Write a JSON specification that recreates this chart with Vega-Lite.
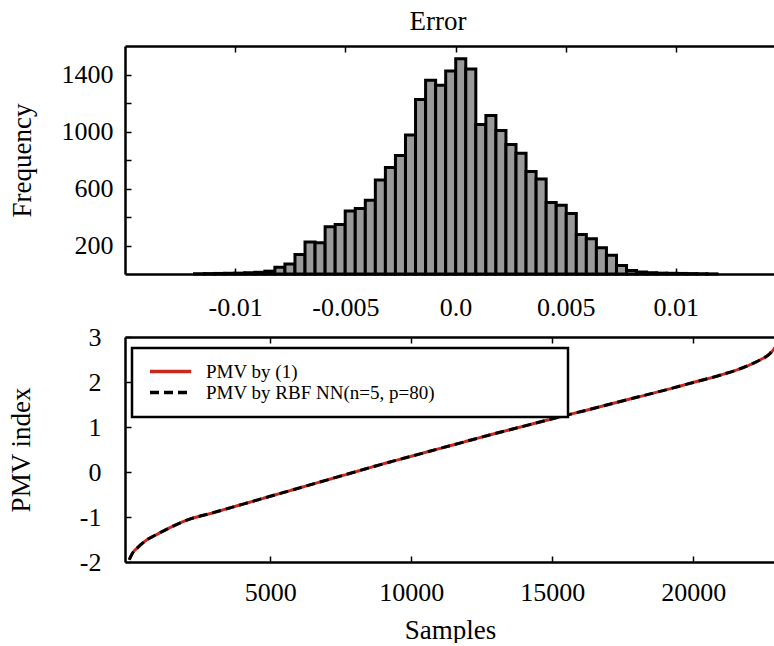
{
  "$schema": "https://vega.github.io/schema/vega-lite/v6.json",
  "padding": {"left": 7, "top": 8, "right": 0, "bottom": 0},
  "background": "white",
  "spacing": 4,
  "resolve": {"legend": {"color": "independent", "strokeDash": "independent"}},
  "config": {
    "view": {"stroke": null},
    "font": "Liberation Serif",
    "axis": {
      "grid": false, "domainColor": "black", "domainWidth": 2.5,
      "tickColor": "black", "tickWidth": 1.5, "tickSize": -6,
      "labelFont": "Liberation Serif", "labelFontSize": 26, "labelColor": "black",
      "titleFont": "Liberation Serif", "titleFontSize": 27, "titleFontWeight": "normal", "titleColor": "black",
      "labelOverlap": false, "labelFlush": false
    }
  },
  "vconcat": [
    {
      "title": {"text": "Error", "font": "Liberation Serif", "fontSize": 27, "fontWeight": "normal", "color": "black", "dx": -12, "offset": 9},
      "width": 650,
      "height": 228,
      "data": {"values": [
        {"lo": -0.011846, "hi": -0.01139, "n": 2},
        {"lo": -0.01139, "hi": -0.010934, "n": 3},
        {"lo": -0.010934, "hi": -0.010478, "n": 4},
        {"lo": -0.010478, "hi": -0.010022, "n": 5},
        {"lo": -0.010022, "hi": -0.009566, "n": 6},
        {"lo": -0.009566, "hi": -0.00911, "n": 8},
        {"lo": -0.00911, "hi": -0.008654, "n": 12},
        {"lo": -0.008654, "hi": -0.008198, "n": 20},
        {"lo": -0.008198, "hi": -0.007742, "n": 47},
        {"lo": -0.007742, "hi": -0.007286, "n": 71},
        {"lo": -0.007286, "hi": -0.00683, "n": 136},
        {"lo": -0.00683, "hi": -0.006374, "n": 224},
        {"lo": -0.006374, "hi": -0.005918, "n": 219},
        {"lo": -0.005918, "hi": -0.005462, "n": 332},
        {"lo": -0.005462, "hi": -0.005006, "n": 348},
        {"lo": -0.005006, "hi": -0.00455, "n": 442},
        {"lo": -0.00455, "hi": -0.004094, "n": 459},
        {"lo": -0.004094, "hi": -0.003638, "n": 518},
        {"lo": -0.003638, "hi": -0.003182, "n": 659},
        {"lo": -0.003182, "hi": -0.002726, "n": 748},
        {"lo": -0.002726, "hi": -0.00227, "n": 831},
        {"lo": -0.00227, "hi": -0.001814, "n": 976},
        {"lo": -0.001814, "hi": -0.001358, "n": 1224},
        {"lo": -0.001358, "hi": -0.000902, "n": 1360},
        {"lo": -0.000902, "hi": -0.000446, "n": 1325},
        {"lo": -0.000446, "hi": 0.00001, "n": 1424},
        {"lo": 0.00001, "hi": 0.000466, "n": 1511},
        {"lo": 0.000466, "hi": 0.000922, "n": 1438},
        {"lo": 0.000922, "hi": 0.001378, "n": 1049},
        {"lo": 0.001378, "hi": 0.001834, "n": 1113},
        {"lo": 0.001834, "hi": 0.00229, "n": 1007},
        {"lo": 0.00229, "hi": 0.002746, "n": 908},
        {"lo": 0.002746, "hi": 0.003202, "n": 847},
        {"lo": 0.003202, "hi": 0.003658, "n": 720},
        {"lo": 0.003658, "hi": 0.004114, "n": 666},
        {"lo": 0.004114, "hi": 0.00457, "n": 501},
        {"lo": 0.00457, "hi": 0.005026, "n": 482},
        {"lo": 0.005026, "hi": 0.005482, "n": 424},
        {"lo": 0.005482, "hi": 0.005938, "n": 278},
        {"lo": 0.005938, "hi": 0.006394, "n": 247},
        {"lo": 0.006394, "hi": 0.00685, "n": 184},
        {"lo": 0.00685, "hi": 0.007306, "n": 132},
        {"lo": 0.007306, "hi": 0.007762, "n": 59},
        {"lo": 0.007762, "hi": 0.008218, "n": 25},
        {"lo": 0.008218, "hi": 0.008674, "n": 14},
        {"lo": 0.008674, "hi": 0.00913, "n": 9},
        {"lo": 0.00913, "hi": 0.009586, "n": 6},
        {"lo": 0.009586, "hi": 0.010042, "n": 5},
        {"lo": 0.010042, "hi": 0.010498, "n": 4},
        {"lo": 0.010498, "hi": 0.010954, "n": 3},
        {"lo": 0.010954, "hi": 0.01141, "n": 2},
        {"lo": 0.01141, "hi": 0.011866, "n": 1}
      ]},
      "layer": [
        {
          "mark": {"type": "bar", "fill": "#9a9a9a", "stroke": "black", "strokeWidth": 3},
          "encoding": {
            "x": {"field": "lo", "type": "quantitative",
              "scale": {"domain": [-0.015, 0.0145], "nice": false, "zero": false},
              "axis": {"values": [-0.01, -0.005, 0, 0.005, 0.01], "labelExpr": "datum.value == 0 ? '0.0' : '' + datum.value", "labelPadding": 26, "title": null, "labelFont": "Liberation Serif"}},
            "x2": {"field": "hi"},
            "y": {"field": "n", "type": "quantitative",
              "scale": {"domain": [0, 1600], "nice": false},
              "axis": {"values": [200, 400, 600, 800, 1000, 1200, 1400], "labelExpr": "(datum.value - 200) % 400 == 0 ? '' + datum.value : ''", "labelPadding": 18, "title": "Frequency", "titlePadding": 25, "labelFont": "Liberation Serif", "titleFont": "Liberation Serif"}},
            "y2": {"datum": 0}
          }
        },
        {
          "mark": {"type": "rule", "opacity": 0},
          "encoding": {
            "x": {"field": "lo", "type": "quantitative",
              "axis": {"orient": "top", "values": [-0.01, -0.005, 0, 0.005, 0.01], "labels": false, "title": null}}
          }
        }
      ],
      "resolve": {"axis": {"x": "independent"}}
    },
    {
      "width": 650,
      "height": 225,
      "data": {"values": [
        {"sample": 0, "PMV by (1)": -1.95, "PMV by RBF NN(n=5, p=80)": -1.95},
        {"sample": 100, "PMV by (1)": -1.82, "PMV by RBF NN(n=5, p=80)": -1.82},
        {"sample": 300, "PMV by (1)": -1.68, "PMV by RBF NN(n=5, p=80)": -1.68},
        {"sample": 600, "PMV by (1)": -1.52, "PMV by RBF NN(n=5, p=80)": -1.52},
        {"sample": 1000, "PMV by (1)": -1.38, "PMV by RBF NN(n=5, p=80)": -1.38},
        {"sample": 1500, "PMV by (1)": -1.22, "PMV by RBF NN(n=5, p=80)": -1.22},
        {"sample": 2000, "PMV by (1)": -1.08, "PMV by RBF NN(n=5, p=80)": -1.08},
        {"sample": 3000, "PMV by (1)": -0.9, "PMV by RBF NN(n=5, p=80)": -0.9},
        {"sample": 4000, "PMV by (1)": -0.72, "PMV by RBF NN(n=5, p=80)": -0.72},
        {"sample": 5000, "PMV by (1)": -0.54, "PMV by RBF NN(n=5, p=80)": -0.54},
        {"sample": 6000, "PMV by (1)": -0.36, "PMV by RBF NN(n=5, p=80)": -0.36},
        {"sample": 7000, "PMV by (1)": -0.18, "PMV by RBF NN(n=5, p=80)": -0.18},
        {"sample": 8000, "PMV by (1)": 0.0, "PMV by RBF NN(n=5, p=80)": 0.0},
        {"sample": 9000, "PMV by (1)": 0.18, "PMV by RBF NN(n=5, p=80)": 0.18},
        {"sample": 10000, "PMV by (1)": 0.35, "PMV by RBF NN(n=5, p=80)": 0.35},
        {"sample": 11000, "PMV by (1)": 0.52, "PMV by RBF NN(n=5, p=80)": 0.52},
        {"sample": 12000, "PMV by (1)": 0.69, "PMV by RBF NN(n=5, p=80)": 0.69},
        {"sample": 13000, "PMV by (1)": 0.86, "PMV by RBF NN(n=5, p=80)": 0.86},
        {"sample": 14000, "PMV by (1)": 1.02, "PMV by RBF NN(n=5, p=80)": 1.02},
        {"sample": 15000, "PMV by (1)": 1.18, "PMV by RBF NN(n=5, p=80)": 1.18},
        {"sample": 16000, "PMV by (1)": 1.34, "PMV by RBF NN(n=5, p=80)": 1.34},
        {"sample": 17000, "PMV by (1)": 1.5, "PMV by RBF NN(n=5, p=80)": 1.5},
        {"sample": 18000, "PMV by (1)": 1.66, "PMV by RBF NN(n=5, p=80)": 1.66},
        {"sample": 19000, "PMV by (1)": 1.82, "PMV by RBF NN(n=5, p=80)": 1.82},
        {"sample": 20000, "PMV by (1)": 1.99, "PMV by RBF NN(n=5, p=80)": 1.99},
        {"sample": 21000, "PMV by (1)": 2.16, "PMV by RBF NN(n=5, p=80)": 2.16},
        {"sample": 21600, "PMV by (1)": 2.28, "PMV by RBF NN(n=5, p=80)": 2.28},
        {"sample": 22000, "PMV by (1)": 2.38, "PMV by RBF NN(n=5, p=80)": 2.38},
        {"sample": 22400, "PMV by (1)": 2.5, "PMV by RBF NN(n=5, p=80)": 2.5},
        {"sample": 22700, "PMV by (1)": 2.62, "PMV by RBF NN(n=5, p=80)": 2.62},
        {"sample": 22900, "PMV by (1)": 2.76, "PMV by RBF NN(n=5, p=80)": 2.76}
      ]},
      "transform": [{"fold": ["PMV by (1)", "PMV by RBF NN(n=5, p=80)"], "as": ["series", "pmv"]}],
      "layer": [
        {
          "mark": {"type": "line", "strokeWidth": 3, "interpolate": "monotone", "clip": true},
          "encoding": {
            "x": {"field": "sample", "type": "quantitative",
              "scale": {"domain": [-150, 22900], "nice": false, "zero": false},
              "axis": {"values": [5000, 10000, 15000, 20000], "format": "d", "labelPadding": 23, "title": "Samples", "titlePadding": 12, "labelFont": "Liberation Serif", "titleFont": "Liberation Serif"}},
            "y": {"field": "pmv", "type": "quantitative",
              "scale": {"domain": [-2, 3], "nice": false},
              "axis": {"values": [-2, -1, 0, 1, 2, 3], "labelExpr": "'' + datum.value", "labelPadding": 30, "title": "PMV index", "titlePadding": 44, "labelFont": "Liberation Serif", "titleFont": "Liberation Serif"}},
            "color": {"field": "series", "type": "nominal",
              "scale": {"range": ["#c8281e", "black"]},
              "legend": {
                "orient": "none", "legendX": 7, "legendY": 11, "title": null,
                "strokeColor": "black", "fillColor": "white", "padding": 14,
                "symbolType": "M-1,0H6.5", "symbolSize": 121, "symbolStrokeWidth": 3.5,
                "labelFont": "Liberation Serif", "labelFontSize": 19, "labelColor": "black",
                "labelOffset": 41, "rowPadding": 1, "labelLimit": 0,
                "labelExpr": "datum.label + '\u00a0\u00a0\u00a0\u00a0\u00a0\u00a0\u00a0\u00a0\u00a0\u00a0\u00a0\u00a0\u00a0\u00a0\u00a0\u00a0\u00a0\u00a0\u00a0\u00a0\u00a0\u00a0\u00a0\u00a0\u00a0\u200b'",
                "encode": {"legend": {"update": {"strokeWidth": {"value": 2.5}}}}
              }},
            "strokeDash": {"field": "series", "type": "nominal", "scale": {"range": [[1, 0], [9, 5]]}}
          }
        },
        {
          "mark": {"type": "rule", "opacity": 0},
          "encoding": {
            "x": {"field": "sample", "type": "quantitative",
              "axis": {"orient": "top", "values": [5000, 10000, 15000, 20000], "labels": false, "title": null}}
          }
        }
      ],
      "resolve": {"axis": {"x": "independent"}}
    }
  ]
}
